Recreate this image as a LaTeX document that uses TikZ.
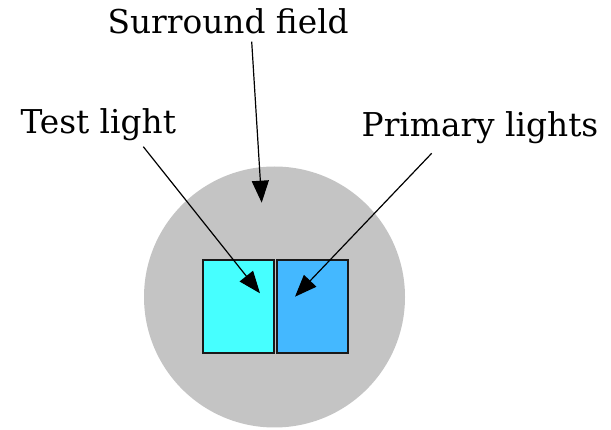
\documentclass[tikz,border=0pt]{standalone}
\usepackage{fontspec}
\setmainfont{DejaVu Serif}
\usetikzlibrary{arrows.meta}
\definecolor{surroundgray}{RGB}{196,196,196}
\definecolor{testcyan}{RGB}{70,255,255}
\definecolor{primblue}{RGB}{68,184,255}
\definecolor{edgegray}{RGB}{25,25,25}
\tikzset{
  lbl/.style={font=\fontsize{32.8}{38}\selectfont, inner sep=0pt, anchor=base},
  patch/.style={draw=edgegray, line width=2pt, inner sep=0pt, minimum height=92.7pt},
  pointer/.style={line width=1.2pt, -{Triangle[length=22pt,width=17pt]}}
}
\begin{document}
\begin{tikzpicture}[x=1pt,y=-1pt]
\useasboundingbox (0,0) rectangle (611,430);
\node[circle, fill=surroundgray, minimum size=261pt, inner sep=0pt] (surround) at (274.5,297) {};
\node[patch, fill=testcyan, minimum width=70.7pt] (test) at (238.7,306.3) {};
\node[patch, fill=primblue, minimum width=70.8pt] (primary) at (312.1,306.3) {};
\node[lbl] (surroundlbl) at (228.2,33.3) {Surround field};
\node[lbl] (testlbl) at (98.3,133.3) {Test light};
\node[lbl] (primarylbl) at (480,136.7) {Primary lights};
\coordinate (s0) at (251.7,41.7);
\coordinate (s1) at (261.7,202.7);
\coordinate (t0) at (143.3,146.7);
\coordinate (t1) at (260,293.3);
\coordinate (p0) at (431.7,153.3);
\coordinate (p1) at (295,296.7);
\draw[pointer] (s0) -- (s1);
\draw[pointer] (t0) -- (t1);
\draw[pointer] (p0) -- (p1);
\end{tikzpicture}
\end{document}
